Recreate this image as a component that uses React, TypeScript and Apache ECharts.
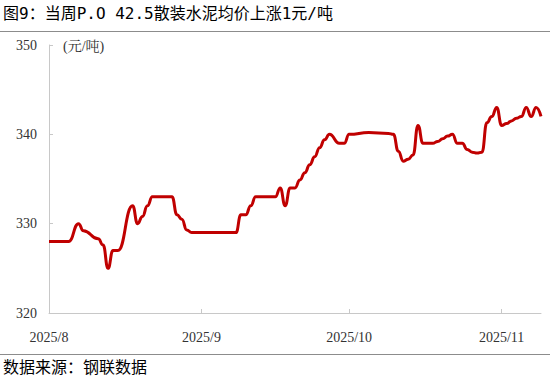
import React, { useEffect, useRef } from "react";
import * as echarts from "echarts";

const dates: string[] = [
  "2025-08-01", "2025-08-05", "2025-08-07", "2025-08-08", "2025-08-11", "2025-08-12",
  "2025-08-13", "2025-08-14", "2025-08-15", "2025-08-18", "2025-08-19", "2025-08-20",
  "2025-08-21", "2025-08-22", "2025-08-25", "2025-08-26", "2025-08-27", "2025-08-28",
  "2025-08-29", "2025-08-30", "2025-09-08", "2025-09-09", "2025-09-10", "2025-09-11",
  "2025-09-12", "2025-09-15", "2025-09-16", "2025-09-17", "2025-09-18", "2025-09-19",
  "2025-09-20", "2025-09-21", "2025-09-22", "2025-09-23", "2025-09-24", "2025-09-25",
  "2025-09-26", "2025-09-27", "2025-09-29", "2025-09-30", "2025-10-01", "2025-10-05",
  "2025-10-09", "2025-10-10", "2025-10-11", "2025-10-12", "2025-10-13", "2025-10-14",
  "2025-10-15", "2025-10-16", "2025-10-17", "2025-10-18", "2025-10-19", "2025-10-20",
  "2025-10-21", "2025-10-22", "2025-10-23", "2025-10-24", "2025-10-25", "2025-10-26",
  "2025-10-27", "2025-10-28", "2025-10-29", "2025-10-30", "2025-10-31", "2025-11-01",
  "2025-11-02", "2025-11-03", "2025-11-04", "2025-11-05", "2025-11-06", "2025-11-07",
  "2025-11-08", "2025-11-09",
];

const prices: number[] = [
  328, 328, 330, 329.2, 328.3, 327.6,
  325, 327, 327, 332, 330, 330.8,
  332, 333, 333, 333, 331, 330.5,
  329.3, 329, 329, 331, 331, 332,
  333, 333, 333, 334, 332, 334,
  334, 334.9, 335.7, 336.6, 337.5, 338.5,
  339.4, 340, 339, 339, 340, 340.2,
  340.1, 340, 338.1, 337, 337.2, 337.7,
  341, 339, 339, 339, 339.2, 339.5,
  339.8, 340, 339, 339, 338.3, 338,
  337.9, 338, 341.3, 342, 343, 341,
  341.2, 341.5, 341.8, 342, 343, 342,
  343, 342,
];

const monthTicks: string[] = ["2025-08-01", "2025-09-01", "2025-10-01", "2025-11-01"];
const axisMinDate = "2025-08-01";
const axisMaxDate = "2025-11-09";

const titleText = "图9：当周P.O 42.5散装水泥均价上涨1元/吨";
const unitText = "(元/吨)";
const sourceText = "数据来源：钢联数据";

const DAY = 86400000;
function ts(s: string): number {
  const [y, m, d] = s.split("-").map(Number);
  return Date.UTC(y, m - 1, d);
}

export default function App() {
  const ref = useRef<HTMLDivElement>(null);

  useEffect(() => {
    if (!ref.current) return;
    const chart = echarts.init(ref.current, null, { renderer: "svg" });
    const tickVals = monthTicks.map(ts);
    const labelColor = "#333333";
    const axisColor = "#c8c8c8";
    chart.setOption({
      animation: false,
      backgroundColor: "#ffffff",
      grid: { left: 49, right: 9, top: 45, bottom: 68, containLabel: false },
      xAxis: {
        type: "value",
        min: ts(axisMinDate),
        max: ts(axisMaxDate),
        interval: DAY * 10,
        axisLine: { show: true, lineStyle: { color: axisColor, width: 1 } },
        axisTick: {
          show: true,
          inside: true,
          length: 4,
          customValues: tickVals,
          lineStyle: { color: axisColor },
        },
        axisLabel: {
          show: true,
          customValues: tickVals,
          color: labelColor,
          fontFamily: "Liberation Serif",
          fontSize: 14,
          margin: 17,
          formatter: (v: number) => {
            const d = new Date(v);
            return `${d.getUTCFullYear()}/${d.getUTCMonth() + 1}`;
          },
        },
        splitLine: { show: false },
      },
      yAxis: {
        type: "value",
        min: 320,
        max: 350,
        interval: 10,
        axisLine: { show: true, lineStyle: { color: axisColor, width: 1 } },
        axisTick: { show: true, inside: true, length: 4, lineStyle: { color: axisColor } },
        axisLabel: {
          color: labelColor,
          fontFamily: "Liberation Serif",
          fontSize: 14,
          margin: 12,
        },
        splitLine: { show: false },
      },
      series: [
        {
          type: "line",
          data: dates.map((d, i) => [ts(d), prices[i]]),
          showSymbol: false,
          smooth: 0.5,
          smoothMonotone: "x",
          lineStyle: { color: "#c00000", width: 3 },
          itemStyle: { color: "#c00000" },
        },
      ],
      graphic: [
        {
          type: "text",
          left: 3,
          top: 5,
          style: {
            text: titleText,
            fontFamily: "DejaVu Sans Mono, Noto Sans CJK SC",
            fontSize: 16,
            fill: "#000000",
          },
        },
        {
          type: "line",
          shape: { x1: 0, y1: 31.5, x2: 550, y2: 31.5 },
          style: { stroke: "#8c8c8c", lineWidth: 1 },
        },
        {
          type: "text",
          left: 63,
          top: 39,
          style: {
            text: unitText,
            fontFamily: "Liberation Serif, Noto Serif CJK SC, serif",
            fontSize: 14,
            fill: labelColor,
          },
        },
        {
          type: "line",
          shape: { x1: 0, y1: 354.5, x2: 550, y2: 354.5 },
          style: { stroke: "#8c8c8c", lineWidth: 1 },
        },
        {
          type: "text",
          left: 3,
          top: 358,
          style: {
            text: sourceText,
            fontFamily: "Noto Sans CJK SC",
            fontSize: 16,
            fill: "#000000",
          },
        },
      ],
    });
    return () => chart.dispose();
  }, []);

  return (
    <div
      ref={ref}
      style={{ position: "fixed", left: 0, top: 0, width: 550, height: 381 }}
    />
  );
}
